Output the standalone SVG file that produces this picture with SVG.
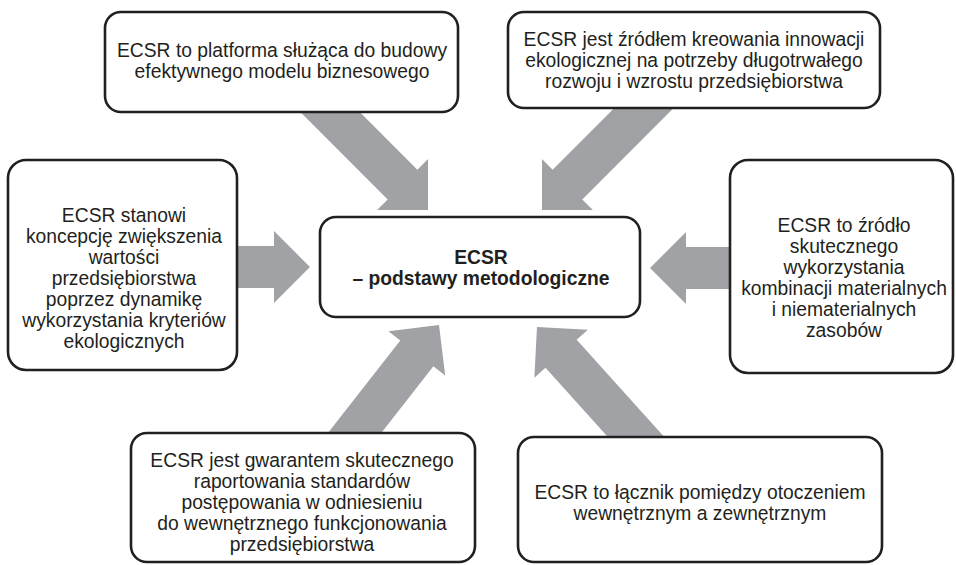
<svg xmlns="http://www.w3.org/2000/svg" width="956" height="565" viewBox="0 0 956 565">
<style>
.box{fill:#ffffff;stroke:#231f20;stroke-width:2.6}
.arrow{fill:#a1a2a5;stroke:none}
text{font-family:"Liberation Sans",Arial,sans-serif;font-size:19.3px;fill:#231f20;text-anchor:middle}
.b{font-weight:bold}
</style>
<defs>
<polygon id="ar85" points="0,0 -36,-36 -36,-21 -85,-21 -85,21 -36,21 -36,36"/>
<polygon id="ar95" points="0,0 -36,-36 -36,-21 -95,-21 -95,21 -36,21 -36,36"/>
<polygon id="ar165" points="0,0 -36,-36 -36,-21 -165,-21 -165,21 -36,21 -36,36"/>
<polygon id="ar175" points="0,0 -36,-36 -36,-21 -175,-21 -175,21 -36,21 -36,36"/>
<polygon id="ar185" points="0,0 -36,-36 -36,-21 -185,-21 -185,21 -36,21 -36,36"/>
</defs>
<g id="connectors" class="arrow">
<use href="#ar185" transform="translate(428,210) rotate(45)"/>
<use href="#ar185" transform="translate(542,210) rotate(135)"/>
<use href="#ar85" transform="translate(310,267)"/>
<use href="#ar95" transform="translate(650,268) rotate(180)"/>
<use href="#ar165" transform="translate(439,325) rotate(-52)"/>
<use href="#ar175" transform="translate(537,327) rotate(-132)"/>
</g>
<g id="node-center">
<rect class="box" x="320" y="217" width="320" height="100" rx="16"/>
<text class="b" x="481" y="264">ECSR</text>
<text class="b" x="481" y="285">– podstawy metodologiczne</text>
</g>
<g id="node-top-left">
<rect class="box" x="105" y="12" width="353" height="100" rx="16"/>
<text x="282" y="57">ECSR to platforma służąca do budowy</text>
<text x="282" y="78">efektywnego modelu biznesowego</text>
</g>
<g id="node-top-right">
<rect class="box" x="508" y="12" width="372" height="96" rx="16"/>
<text x="694" y="46">ECSR jest źródłem kreowania innowacji</text>
<text x="694" y="67">ekologicznej na potrzeby długotrwałego</text>
<text x="694" y="88">rozwoju i wzrostu przedsiębiorstwa</text>
</g>
<g id="node-left">
<rect class="box" x="8" y="160" width="229" height="210" rx="18"/>
<text x="124" y="222">ECSR stanowi</text>
<text x="124" y="243">koncepcję zwiększenia</text>
<text x="124" y="264">wartości</text>
<text x="124" y="285">przedsiębiorstwa</text>
<text x="124" y="306">poprzez dynamikę</text>
<text x="124" y="327">wykorzystania kryteriów</text>
<text x="124" y="348">ekologicznych</text>
</g>
<g id="node-right">
<rect class="box" x="730" y="160" width="223" height="213" rx="18"/>
<text x="844" y="232">ECSR to źródło</text>
<text x="844" y="253">skutecznego</text>
<text x="844" y="274">wykorzystania</text>
<text x="844" y="295">kombinacji materialnych</text>
<text x="844" y="316">i niematerialnych</text>
<text x="844" y="337">zasobów</text>
</g>
<g id="node-bottom-left">
<rect class="box" x="131" y="433" width="344" height="129" rx="16"/>
<text x="302" y="467">ECSR jest gwarantem skutecznego</text>
<text x="302" y="488">raportowania standardów</text>
<text x="302" y="509">postępowania w odniesieniu</text>
<text x="302" y="530">do wewnętrznego funkcjonowania</text>
<text x="302" y="551">przedsiębiorstwa</text>
</g>
<g id="node-bottom-right">
<rect class="box" x="518" y="437" width="364" height="125" rx="16"/>
<text x="700" y="499">ECSR to łącznik pomiędzy otoczeniem</text>
<text x="700" y="520">wewnętrznym a zewnętrznym</text>
</g>
</svg>
